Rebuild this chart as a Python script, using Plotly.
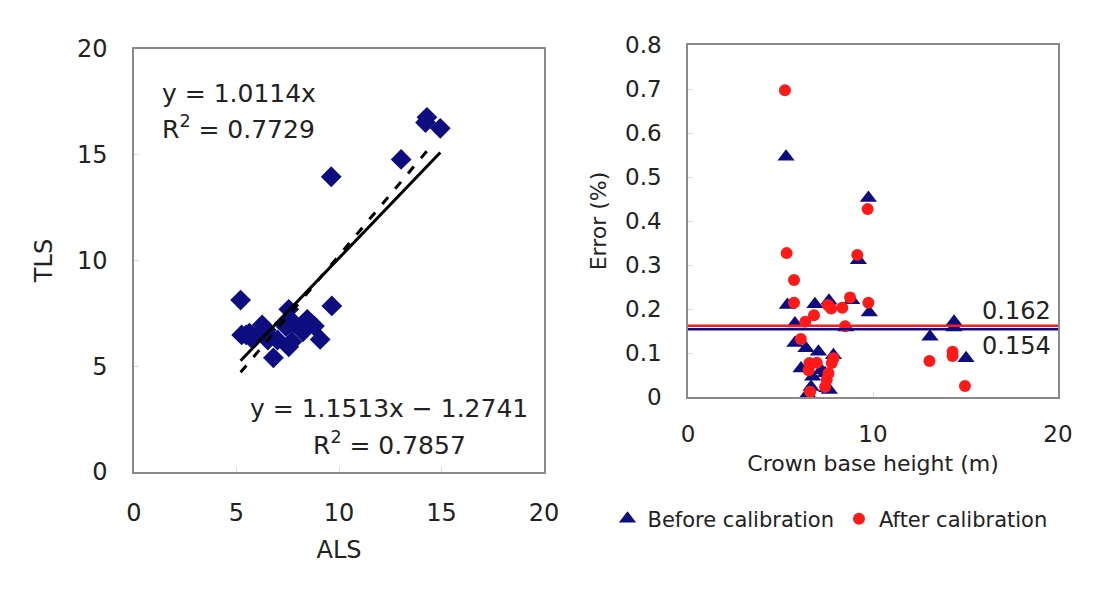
import plotly.graph_objects as go

# ---- Left panel data (ALS vs TLS) ----
als = [5.2, 5.25, 5.47, 5.63, 5.7, 6.25, 6.2, 6.45, 6.53, 6.53, 7.0, 6.8, 7.55, 7.34, 7.59,
       7.78, 7.42, 7.7, 7.55, 8.24, 8.45, 8.64, 8.8, 9.08, 9.62, 9.65, 13.03, 14.29, 14.22, 14.94]
tls = [8.13, 6.48, 6.48, 6.57, 6.35, 6.95, 6.63, 6.71, 6.48, 6.24, 6.24, 5.4, 7.69, 7.03, 7.03,
       7.06, 6.87, 6.16, 5.92, 6.63, 7.22, 7.03, 6.9, 6.27, 13.96, 7.85, 14.78, 16.77, 16.52, 16.25]
slope_origin = 1.0114
slope_lin, icpt_lin = 1.1513, -1.2741
left_ticks = [0, 5, 10, 15, 20]

# ---- Right panel data (crown base height vs error) ----
before_x = [5.3, 5.37, 5.78, 5.78, 6.38, 7.05, 6.11, 6.74, 6.65, 6.47, 6.86, 7.62, 8.85, 9.21,
            9.75, 9.8, 8.54, 7.86, 7.41, 7.5, 7.64, 13.08, 14.38, 14.38, 15.03, 7.2]
before_y = [0.546, 0.209, 0.167, 0.123, 0.111, 0.103, 0.065, 0.046, 0.023, 0.007, 0.211, 0.219,
            0.22, 0.311, 0.452, 0.192, 0.158, 0.095, 0.054, 0.02, 0.016, 0.137, 0.171, 0.158,
            0.088, 0.061]
after_x = [5.24, 5.33, 5.73, 5.73, 6.34, 6.81, 6.1, 7.56, 7.74, 8.34, 8.76, 9.15, 9.71, 9.75,
           8.49, 6.56, 6.96, 6.52, 6.6, 7.5, 7.41, 7.59, 7.77, 7.86, 13.05, 14.3, 14.3, 14.97]
after_y = [0.697, 0.327, 0.266, 0.214, 0.171, 0.186, 0.132, 0.209, 0.201, 0.203, 0.226, 0.323,
           0.427, 0.214, 0.161, 0.077, 0.078, 0.061, 0.012, 0.039, 0.023, 0.054, 0.077, 0.088,
           0.082, 0.103, 0.093, 0.025]
mean_after = 0.162
mean_before = 0.154
err_ticks = [0, 0.1, 0.2, 0.3, 0.4, 0.5, 0.6, 0.7, 0.8]
err_tick_labels = ["0", "0.1", "0.2", "0.3", "0.4", "0.5", "0.6", "0.7", "0.8"]
cbh_ticks = [0, 10, 20]

NAVY = "#0d0d80"
RED = "#ff1a1a"
FONT = "DejaVu Sans, Liberation Sans, sans-serif"
TXT = "#222222"
W, H = 1108, 603
OFF = 8  # page body margin


def px(x):
    return (x - OFF) / W


def py(y):
    return 1 - (y - OFF) / H


fig = go.Figure()

fig.add_trace(go.Scatter(x=als, y=tls, mode="markers", xaxis="x", yaxis="y",
                         marker=dict(symbol="diamond", size=16, color=NAVY),
                         showlegend=False))
xmin, xmax = min(als), max(als)
fig.add_trace(go.Scatter(x=[xmin, xmax], y=[slope_origin * xmin, slope_origin * xmax],
                         mode="lines", line=dict(color="black", width=3),
                         xaxis="x", yaxis="y", showlegend=False))
fig.add_trace(go.Scatter(x=[xmin, xmax - 0.5],
                         y=[slope_lin * xmin + icpt_lin, slope_lin * (xmax - 0.5) + icpt_lin],
                         mode="lines", line=dict(color="black", width=3, dash="9px,11px"),
                         xaxis="x", yaxis="y", showlegend=False))

fig.add_trace(go.Scatter(x=before_x, y=before_y, mode="markers", name="Before calibration",
                         xaxis="x2", yaxis="y2",
                         marker=dict(symbol="triangle-up", size=15, color=NAVY)))
fig.add_trace(go.Scatter(x=after_x, y=after_y, mode="markers", name="After calibration",
                         xaxis="x2", yaxis="y2",
                         marker=dict(symbol="circle", size=12, color=RED)))

fig.add_shape(type="line", xref="x2 domain", yref="y2", x0=0, x1=1, y0=mean_after, y1=mean_after,
              line=dict(color=RED, width=2.5))
fig.add_shape(type="line", xref="x2 domain", yref="y2", x0=0, x1=1, y0=mean_before, y1=mean_before,
              line=dict(color=NAVY, width=2.5))

axis_common = dict(showgrid=False, zeroline=False, showline=True, linecolor="#8a8a8a",
                   linewidth=1.5, mirror=True, ticks="inside", ticklen=5, tickcolor="#dddddd",
                   automargin=False)

fig.update_layout(
    width=W, height=H,
    margin=dict(l=0, r=0, t=0, b=0, autoexpand=False),
    paper_bgcolor="white", plot_bgcolor="white",
    font=dict(family=FONT, color=TXT),
    xaxis=dict(domain=[px(134), px(544)], range=[0, 20], tickvals=left_ticks,
               tickfont=dict(size=24), ticklabelstandoff=18,
               title=dict(text="ALS", font=dict(size=24), standoff=16),
               anchor="y", **axis_common),
    yaxis=dict(domain=[py(472), py(49)], range=[0, 20], tickvals=left_ticks,
               tickfont=dict(size=24), ticklabelstandoff=20,
               title=dict(text="TLS", font=dict(size=24), standoff=18),
               anchor="x", **axis_common),
    xaxis2=dict(domain=[px(688), px(1058)], range=[0, 20], tickvals=cbh_ticks,
                tickfont=dict(size=23), ticklabelstandoff=16,
                title=dict(text="Crown base height (m)", font=dict(size=22), standoff=9),
                anchor="y2", **axis_common),
    yaxis2=dict(domain=[py(397), py(45)], range=[0, 0.8], tickvals=err_ticks,
                ticktext=err_tick_labels, tickfont=dict(size=23), ticklabelstandoff=20,
                title=dict(text="Error (%)", font=dict(size=22), standoff=12),
                anchor="x2", **axis_common),
    legend=dict(orientation="h", x=px(830), xanchor="center", y=py(519), yanchor="middle",
                font=dict(size=21), bgcolor="rgba(0,0,0,0)"),
    showlegend=True,
)

ann = dict(xref="paper", yref="paper", showarrow=False, font=dict(size=25, color=TXT, family=FONT))
fig.add_annotation(text="y = 1.0114x", x=px(160), y=py(93), xanchor="left", yanchor="middle", **ann)
fig.add_annotation(text="R<sup>2</sup> = 0.7729", x=px(160), y=py(127), xanchor="left", yanchor="middle", **ann)
fig.add_annotation(text="y = 1.1513x − 1.2741", x=px(530), y=py(408), xanchor="right", yanchor="middle", **ann)
fig.add_annotation(text="R<sup>2</sup> = 0.7857", x=px(468), y=py(443), xanchor="right", yanchor="middle", **ann)
fig.add_annotation(text=f"{mean_after:.3f}", x=px(1053), y=py(311), xanchor="right", yanchor="middle",
                   showarrow=False, xref="paper", yref="paper", font=dict(size=24, color=TXT, family=FONT))
fig.add_annotation(text=f"{mean_before:.3f}", x=px(1053), y=py(346), xanchor="right", yanchor="middle",
                   showarrow=False, xref="paper", yref="paper", font=dict(size=24, color=TXT, family=FONT))

fig.write_html("out.html")
